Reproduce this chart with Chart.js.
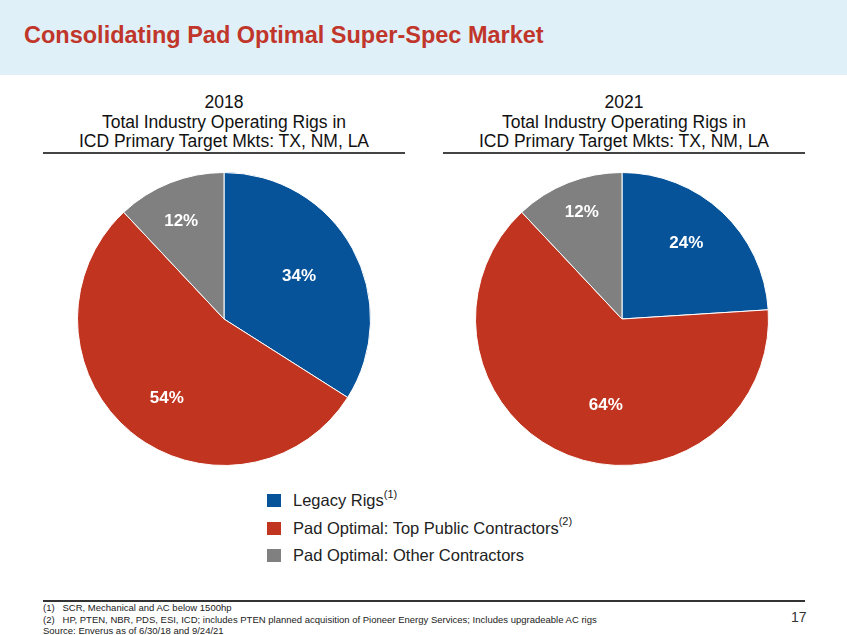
<!DOCTYPE html>
<html>
<head>
<meta charset="utf-8">
<script src="https://cdn.jsdelivr.net/npm/chart.js@4/dist/chart.umd.min.js"></script>
<style>
  body { margin: 0; width: 847px; height: 635px; background: #fff; position: relative; overflow: hidden;
         font-family: "Liberation Sans", Arial, sans-serif; }
  .band { position: absolute; left: 0; top: 0; width: 847px; height: 75px; background: #e0f0f8; }
  .title { position: absolute; left: 24px; top: 23px; font-weight: bold; font-size: 23.5px; line-height: 24px;
           color: #c0362a; white-space: nowrap; }
  .sub { position: absolute; top: 93px; width: 362px; text-align: center;
         font-size: 17.5px; line-height: 19.5px; color: #111; border-bottom: 2px solid #444; }
  canvas { position: absolute; }
  .legend { position: absolute; left: 267px; top: 487px; font-size: 16.5px; color: #222; }
  .legend div { height: 27.5px; line-height: 27.5px; white-space: nowrap; }
  .legend span.sw { display: inline-block; width: 14px; height: 13px; margin-right: 12px; vertical-align: -1px; }
  .legend sup { font-size: 11px; line-height: 0; position: relative; top: -2px; }
  .foot { position: absolute; left: 43px; top: 600px; width: 762px; border-top: 2px solid #333;
          font-size: 9.5px; line-height: 11.5px; color: #222; }
  .page { position: absolute; left: 791px; top: 609px; font-size: 14px; color: #333; }
</style>
</head>
<body>
<div class="band"></div>
<div class="title">Consolidating Pad Optimal Super-Spec Market</div>

<div class="sub" style="left:43px">2018<br>Total Industry Operating Rigs in<br>ICD Primary Target Mkts: TX, NM, LA</div>
<div class="sub" style="left:443px">2021<br>Total Industry Operating Rigs in<br>ICD Primary Target Mkts: TX, NM, LA</div>

<canvas id="pie2018" width="300" height="300" style="left:74px;top:169px"></canvas>
<canvas id="pie2021" width="300" height="300" style="left:472px;top:169px"></canvas>

<div class="legend" id="legend"></div>

<div class="foot">
  (1)&nbsp;&nbsp;&nbsp;SCR, Mechanical and AC below 1500hp<br>
  (2)&nbsp;&nbsp;&nbsp;HP, PTEN, NBR, PDS, ESI, ICD; includes PTEN planned acquisition of Pioneer Energy Services; Includes upgradeable AC rigs<br>
  Source: Enverus as of 6/30/18 and 9/24/21
</div>
<div class="page">17</div>

<script>
// Rig market share by segment
const categories = ["Legacy Rigs", "Pad Optimal: Top Public Contractors", "Pad Optimal: Other Contractors"];
const notes = ["(1)", "(2)", ""];
const share2018 = [34, 54, 12];
const share2021 = [24, 64, 12];
const colors = ["#06539a", "#c1341f", "#808080"];

// Build the legend
const legend = document.getElementById("legend");
categories.forEach((cat, i) => {
    const row = document.createElement("div");
    row.innerHTML = `<span class="sw" style="background:${colors[i]}"></span>${cat}` +
        (notes[i] ? `<sup>${notes[i]}</sup>` : "");
    legend.appendChild(row);
});

// Draw white percentage labels inside the slices
const sliceLabels = {
    id: "sliceLabels",
    afterDatasetsDraw(chart, args, opts) {
        const ctx = chart.ctx;
        const meta = chart.getDatasetMeta(0);
        const values = chart.data.datasets[0].data;
        ctx.save();
        ctx.font = "bold 17px 'Liberation Sans', Arial, sans-serif";
        ctx.fillStyle = "#fff";
        ctx.textAlign = "center";
        ctx.textBaseline = "middle";
        meta.data.forEach((arc, i) => {
            const p = arc.getProps(["x", "y", "startAngle", "endAngle", "outerRadius"], true);
            const mid = (p.startAngle + p.endAngle) / 2 + (opts.shift[i] || 0) * Math.PI / 180;
            const r = p.outerRadius * opts.radius[i];
            ctx.fillText(values[i] + "%", p.x + Math.cos(mid) * r, p.y + Math.sin(mid) * r);
        });
        ctx.restore();
    }
};

function renderPie(id, values, labelRadius, labelShift) {
    new Chart(document.getElementById(id), {
        type: "pie",
        data: {
            labels: categories,
            datasets: [{
                data: values,
                backgroundColor: colors,
                borderColor: "#fff",
                borderWidth: 1
            }]
        },
        options: {
            responsive: false,
            animation: false,
            layout: { padding: 3 },
            plugins: {
                legend: { display: false },
                tooltip: { enabled: false },
                sliceLabels: { radius: labelRadius, shift: labelShift }
            }
        },
        plugins: [sliceLabels]
    });
}

renderPie("pie2018", share2018, [0.59, 0.67, 0.73], [-1, -4, -2]);
renderPie("pie2021", share2021, [0.68, 0.6, 0.78], [-3, -11, 1]);
</script>
</body>
</html>
